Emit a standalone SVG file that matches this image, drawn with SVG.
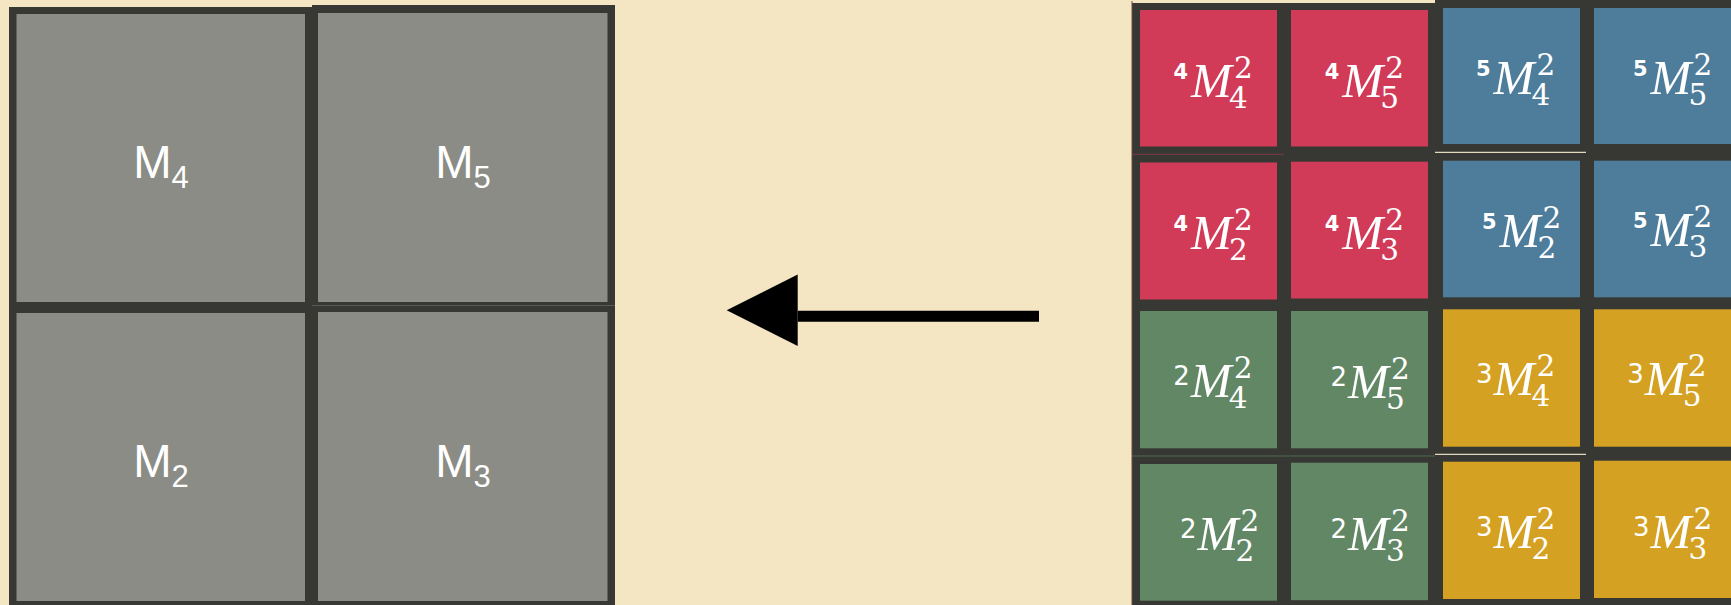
<svg xmlns="http://www.w3.org/2000/svg" width="1731" height="605" viewBox="0 0 1731 605">
<style>
.bg{fill:#f4e5c3}
.frame{fill:#373833}
.gray{fill:#8b8c86}
.red{fill:#d13b57}
.blue{fill:#4e7d9b}
.green{fill:#628765}
.yellow{fill:#d5a123}
.lbl{font-family:"Liberation Sans",Arial,sans-serif;font-size:46px;fill:#ffffff}
.sub{font-size:31px}
.m{font-family:"Liberation Serif","Times New Roman",serif;font-style:italic;font-size:49px;fill:#ffffff}
.d{font-family:"DejaVu Serif",serif;font-size:29.5px;fill:#ffffff}
.pb{font-family:"DejaVu Sans",sans-serif;font-weight:bold;font-size:21px;fill:#ffffff}
.pr{font-family:"DejaVu Sans",sans-serif;font-size:26px;fill:#ffffff}
</style>
<defs>
<marker id="head" markerUnits="userSpaceOnUse" markerWidth="80" markerHeight="92" viewBox="0 0 80 92" refX="0" refY="40" orient="auto" overflow="visible">
<polygon points="0,10.2 71,46 0,81.8" fill="#000000"/>
</marker>
</defs>
<rect class="bg" x="0" y="0" width="1731" height="605"/>

<g id="frames">
<rect class="frame" x="9" y="7" width="304" height="598"/>
<rect class="frame" x="312" y="5" width="303" height="600"/>
<line x1="312" y1="305.5" x2="615" y2="305.5" stroke="#5a5b55" stroke-width="1"/>
<rect class="frame" x="1132" y="3" width="304" height="602"/>
<rect class="frame" x="1435" y="0" width="296" height="605"/>
<line x1="1132" y1="1" x2="1132" y2="605" stroke="#6a4a42" stroke-width="1"/>
<line x1="1435" y1="152.3" x2="1586" y2="152.3" stroke="#e3d8bd" stroke-width="1.2"/>
<line x1="1435" y1="454.3" x2="1586" y2="454.3" stroke="#e3d8bd" stroke-width="1.2"/>
<line x1="1132" y1="154.3" x2="1284" y2="154.3" stroke="#7a3a45" stroke-width="1"/>
<line x1="1132" y1="456" x2="1435" y2="456" stroke="#4f6a52" stroke-width="1"/>
</g>

<g id="M4"><rect class="gray" x="16.5" y="14" width="288.5" height="288"/><text class="lbl" x="161" y="177.5" text-anchor="middle">M<tspan class="sub" dy="10">4</tspan></text></g>
<g id="M5"><rect class="gray" x="318" y="13" width="289.5" height="289"/><text class="lbl" x="463" y="177.5" text-anchor="middle">M<tspan class="sub" dy="10">5</tspan></text></g>
<g id="M2"><rect class="gray" x="16.5" y="313" width="288.5" height="288"/><text class="lbl" x="161" y="476.5" text-anchor="middle">M<tspan class="sub" dy="10">2</tspan></text></g>
<g id="M3"><rect class="gray" x="318" y="312" width="289.5" height="289"/><text class="lbl" x="463" y="476.5" text-anchor="middle">M<tspan class="sub" dy="10">3</tspan></text></g>

<g id="connectors">
<path d="M1039,316.2 H797.7" stroke="#000000" stroke-width="11" fill="none" marker-end="url(#head)"/>
</g>

<g id="r4M4"><rect class="red" x="1140" y="10" width="137" height="136.5"/><text><tspan class="pb" x="1173.5" y="79.3">4</tspan><tspan class="m" x="1191" y="97.3">M</tspan><tspan class="d" x="1229" y="108.3">4</tspan><tspan class="d" x="1234" y="78.3">2</tspan></text></g>
<g id="r4M5"><rect class="red" x="1291" y="10" width="137" height="136.5"/><text><tspan class="pb" x="1324.8" y="79.3">4</tspan><tspan class="m" x="1342.3" y="97.3">M</tspan><tspan class="d" x="1380.3" y="108.3">5</tspan><tspan class="d" x="1385.3" y="78.3">2</tspan></text></g>
<g id="b5M4"><rect class="blue" x="1443" y="8" width="137" height="136"/><text><tspan class="pb" x="1476" y="75.5">5</tspan><tspan class="m" x="1493.5" y="93.5">M</tspan><tspan class="d" x="1531.5" y="104.5">4</tspan><tspan class="d" x="1536.5" y="74.5">2</tspan></text></g>
<g id="b5M5"><rect class="blue" x="1594" y="8" width="137" height="136"/><text><tspan class="pb" x="1633" y="76">5</tspan><tspan class="m" x="1650.5" y="94">M</tspan><tspan class="d" x="1688.5" y="105">5</tspan><tspan class="d" x="1693.5" y="75">2</tspan></text></g>

<g id="r4M2"><rect class="red" x="1140" y="162.5" width="137" height="137"/><text><tspan class="pb" x="1173.5" y="231.3">4</tspan><tspan class="m" x="1191" y="249.3">M</tspan><tspan class="d" x="1229" y="260.3">2</tspan><tspan class="d" x="1234" y="230.3">2</tspan></text></g>
<g id="r4M3"><rect class="red" x="1291" y="161.7" width="137" height="136.8"/><text><tspan class="pb" x="1324.8" y="230.5">4</tspan><tspan class="m" x="1342.3" y="248.5">M</tspan><tspan class="d" x="1380.3" y="259.5">3</tspan><tspan class="d" x="1385.3" y="229.5">2</tspan></text></g>
<g id="b5M2"><rect class="blue" x="1443" y="160.7" width="137" height="136.6"/><text><tspan class="pb" x="1482" y="228.7">5</tspan><tspan class="m" x="1499.5" y="246.7">M</tspan><tspan class="d" x="1537.5" y="257.7">2</tspan><tspan class="d" x="1542.5" y="227.7">2</tspan></text></g>
<g id="b5M3"><rect class="blue" x="1594" y="160.7" width="137" height="136.6"/><text><tspan class="pb" x="1633" y="228">5</tspan><tspan class="m" x="1650.5" y="246">M</tspan><tspan class="d" x="1688.5" y="257">3</tspan><tspan class="d" x="1693.5" y="227">2</tspan></text></g>

<g id="g2M4"><rect class="green" x="1140" y="311" width="137" height="137.3"/><text><tspan class="pr" x="1173.3" y="384.5">2</tspan><tspan class="m" x="1190.8" y="396.7">M</tspan><tspan class="d" x="1228.8" y="407.7">4</tspan><tspan class="d" x="1233.8" y="377.7">2</tspan></text></g>
<g id="g2M5"><rect class="green" x="1291" y="311" width="137" height="137.3"/><text><tspan class="pr" x="1330.5" y="385.5">2</tspan><tspan class="m" x="1348" y="397.7">M</tspan><tspan class="d" x="1386" y="408.7">5</tspan><tspan class="d" x="1391" y="378.7">2</tspan></text></g>
<g id="y3M4"><rect class="yellow" x="1443" y="309.3" width="137" height="137.4"/><text><tspan class="pr" x="1476.1" y="383">3</tspan><tspan class="m" x="1493.6" y="395">M</tspan><tspan class="d" x="1531.6" y="406">4</tspan><tspan class="d" x="1536.6" y="376">2</tspan></text></g>
<g id="y3M5"><rect class="yellow" x="1594" y="309.3" width="137" height="137.4"/><text><tspan class="pr" x="1627.3" y="383">3</tspan><tspan class="m" x="1644.8" y="395">M</tspan><tspan class="d" x="1682.8" y="406">5</tspan><tspan class="d" x="1687.8" y="376">2</tspan></text></g>

<g id="g2M2"><rect class="green" x="1140" y="464" width="137" height="136.7"/><text><tspan class="pr" x="1179.9" y="537.8">2</tspan><tspan class="m" x="1197.4" y="550">M</tspan><tspan class="d" x="1235.4" y="561">2</tspan><tspan class="d" x="1240.4" y="531">2</tspan></text></g>
<g id="g2M3"><rect class="green" x="1291" y="462.7" width="137" height="137.5"/><text><tspan class="pr" x="1330.5" y="537.8">2</tspan><tspan class="m" x="1348" y="550">M</tspan><tspan class="d" x="1386" y="561">3</tspan><tspan class="d" x="1391" y="531">2</tspan></text></g>
<g id="y3M2"><rect class="yellow" x="1443" y="461.7" width="137" height="137.3"/><text><tspan class="pr" x="1476.1" y="536.3">3</tspan><tspan class="m" x="1493.6" y="548.3">M</tspan><tspan class="d" x="1531.6" y="559.3">2</tspan><tspan class="d" x="1536.6" y="529.3">2</tspan></text></g>
<g id="y3M3"><rect class="yellow" x="1594" y="460.7" width="137" height="137.3"/><text><tspan class="pr" x="1633.1" y="536.3">3</tspan><tspan class="m" x="1650.6" y="548.3">M</tspan><tspan class="d" x="1688.6" y="559.3">3</tspan><tspan class="d" x="1693.6" y="529.3">2</tspan></text></g>
</svg>
